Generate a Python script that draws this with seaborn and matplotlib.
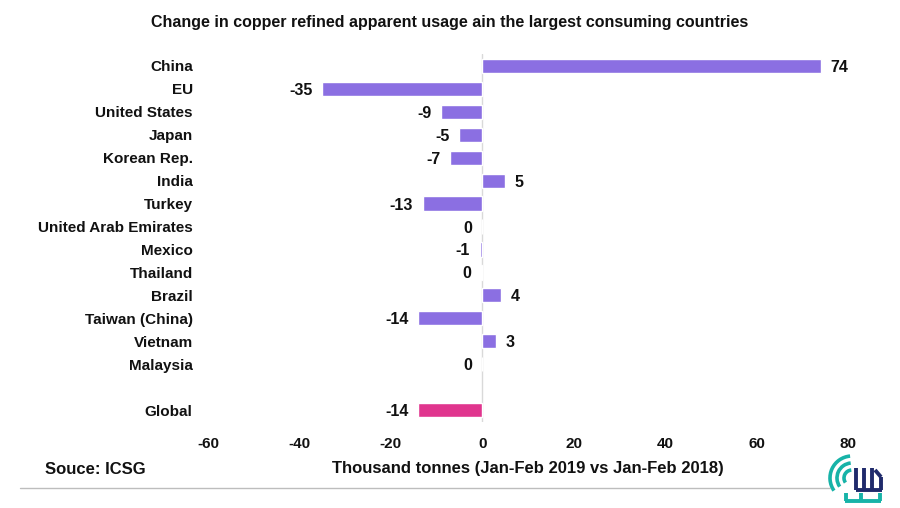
import numpy as np
import pandas as pd
import matplotlib
matplotlib.use('Agg')
import matplotlib.pyplot as plt
from matplotlib.patches import Arc
import seaborn as sns

# ---------------------------------------------------------------------------
# Data (thousand tonnes, Jan-Feb 2019 vs Jan-Feb 2018)
# ---------------------------------------------------------------------------
countries = ['China', 'EU', 'United States', 'Japan', 'Korean Rep.', 'India',
             'Turkey', 'United Arab Emirates', 'Mexico', 'Thailand', 'Brazil',
             'Taiwan (China)', 'Vietnam', 'Malaysia', 'Global']
changes = [74, -35, -9, -5, -7, 5, -13, 0, -0.6, -0.2, 4, -14, 3, 0, -14]
groups = ['country'] * 14 + ['global']
x_ticks = [-60, -40, -20, 0, 20, 40, 60, 80]

PURPLE = '#8B6FE2'
MAGENTA = '#E0358E'
TEAL = '#17B3A8'
NAVY = '#1F2A6B'
INK = '#111111'

sns.set_theme(style='white')
plt.rcParams['font.family'] = ['Liberation Sans', 'DejaVu Sans']
plt.rcParams['font.weight'] = 'bold'

df = pd.DataFrame({'country': countries, 'change': changes, 'group': groups})
# blank slot between Malaysia and Global
order = countries[:14] + [' '] + ['Global']

fig = plt.figure(figsize=(9, 5.08), dpi=100)
ax = fig.add_axes([208 / 900, 1 - 421.5 / 508, 640 / 900, 367 / 508])

sns.barplot(data=df, x='change', y='country', hue='group', order=order,
            palette={'country': PURPLE, 'global': MAGENTA}, orient='h',
            width=0.62, legend=False, saturation=1, ax=ax)

for name, val in zip(countries, changes):
    pos = order.index(name)
    off = 7 if val > 0 else -7
    ax.annotate(f'{int(round(val))}', xy=(val, pos), xytext=(off, 0),
                textcoords='offset points', va='center_baseline',
                ha='left' if val > 0 else 'right',
                fontsize=11.5, fontweight='bold', color=INK)

ax.axvline(0, color='#D9D9D9', lw=1, zorder=0)
ax.set_xlim(-60, 80)
ax.set_ylim(15.5, -0.5)
ax.set_xticks(x_ticks)
ax.set_xticklabels([str(t) for t in x_ticks])
ax.tick_params(axis='x', length=0, pad=11.5, labelsize=11, labelcolor=INK)
ax.tick_params(axis='y', length=0, pad=11, labelsize=11, labelcolor=INK)
for lab in ax.get_xticklabels() + ax.get_yticklabels():
    lab.set_fontweight('bold')
for s in ax.spines.values():
    s.set_visible(False)
ax.set_ylabel('')
ax.set_xlabel('Thousand tonnes (Jan-Feb 2019 vs Jan-Feb 2018)', fontsize=12,
              fontweight='bold', color=INK, labelpad=7)

fig.text(0.5, 1 - 22 / 508, 'Change in copper refined apparent usage ain the largest consuming countries',
         ha='center', va='center', fontsize=11.5, fontweight='bold', color=INK)
fig.text(45 / 900, 1 - 470 / 508, 'Souce: ICSG', ha='left', va='center',
         fontsize=12, fontweight='bold', color=INK)
fig.add_artist(plt.Line2D([20 / 900, 830 / 900], [1 - 488 / 508] * 2,
                          color='#BDBDBD', lw=1))

# small logo bottom right
lg = fig.add_axes([825 / 900, 0, 70 / 900, 60 / 508])
lg.set_xlim(0, 70)
lg.set_ylim(0, 60)
lg.axis('off')
for r in (8, 15, 22):
    lg.add_patch(Arc((27, 30), 2 * r, 2 * r, theta1=95, theta2=215, color=TEAL, lw=2.6))
for xs in (31, 39, 47):
    lg.plot([xs, xs], [18, 40], color=NAVY, lw=2.8, solid_capstyle='butt')
lg.plot([31, 57], [18, 18], color=NAVY, lw=2.8, solid_capstyle='butt')
lg.plot([56, 56], [18, 31], color=NAVY, lw=2.8, solid_capstyle='butt')
lg.plot([56, 50], [31, 38], color=NAVY, lw=2.8, solid_capstyle='butt')
lg.plot([20, 56], [7, 7], color=TEAL, lw=2.8, solid_capstyle='butt')
for xs in (21, 36, 55):
    lg.plot([xs, xs], [7, 15], color=TEAL, lw=2.8, solid_capstyle='butt')

fig.savefig('out.png', dpi=100)
